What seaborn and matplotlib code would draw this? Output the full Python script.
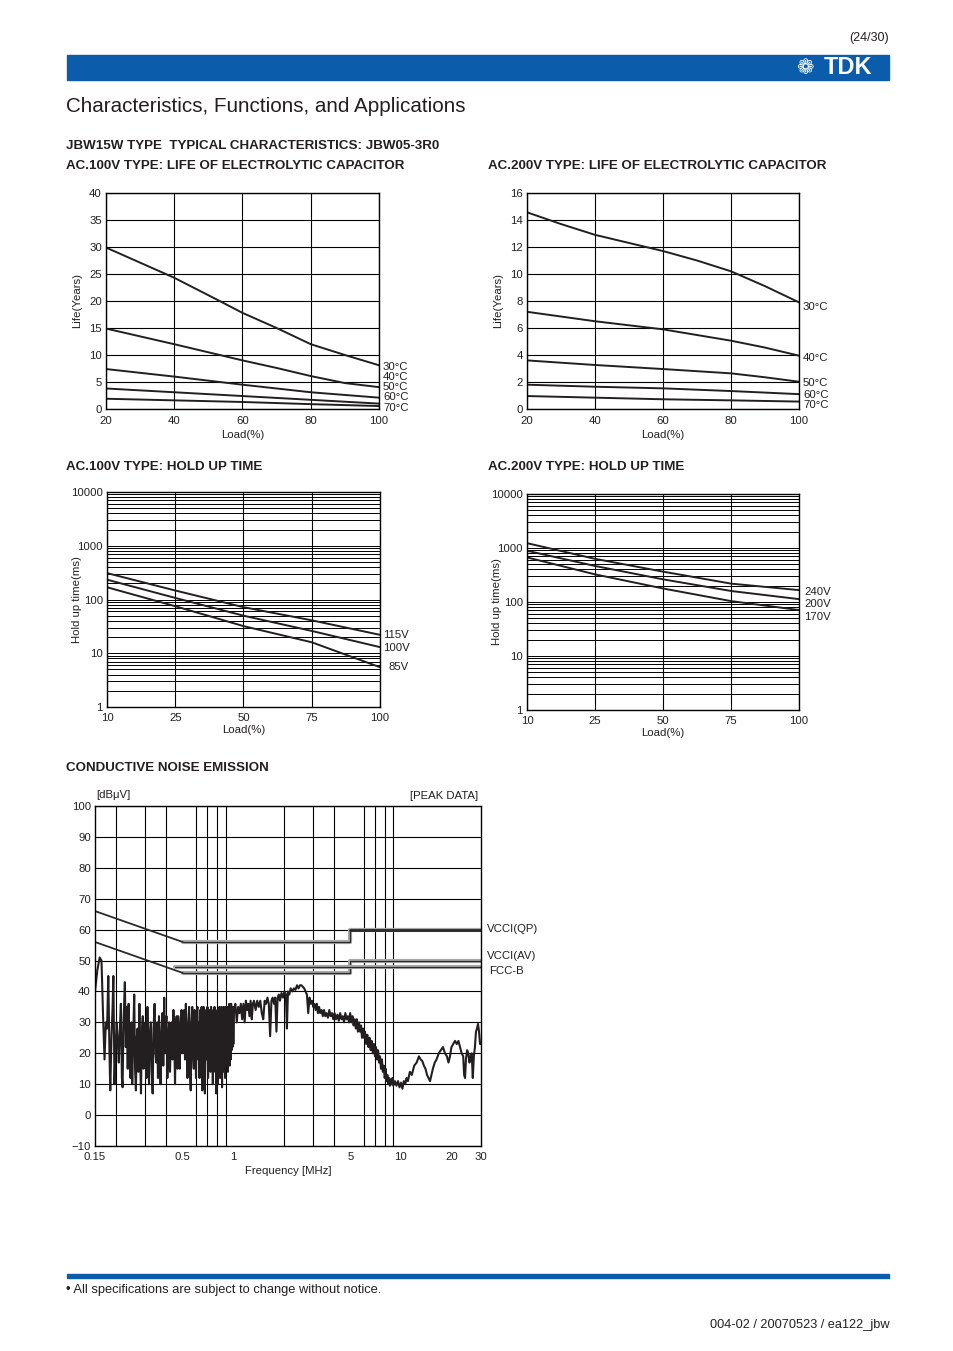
import numpy as np
import pandas as pd
import matplotlib
matplotlib.use("Agg")
import matplotlib.pyplot as plt
from matplotlib.patches import Rectangle
from matplotlib.ticker import FixedLocator, NullFormatter, FixedFormatter
import seaborn as sns

# ---------------- DATA ----------------
# AC.100V life of electrolytic capacitor (years vs load %)
life100_30_load = [20, 40, 53, 60, 70, 80, 90, 100]
life100_30 = [29.9, 24.3, 20.1, 17.8, 15.0, 12.0, 10.0, 8.1]
life100_40_load = [20, 40, 60, 70, 80, 90, 100]
life100_40 = [14.9, 12.0, 9.0, 7.6, 6.1, 4.8, 4.05]
life_load = [20, 40, 60, 80, 100]
life100_50 = [7.4, 6.0, 4.5, 3.1, 2.1]
life100_60 = [3.8, 3.1, 2.4, 1.7, 1.0]
life100_70 = [1.9, 1.6, 1.3, 0.9, 0.55]

# AC.200V life
life200_30_load = [20, 30, 40, 50, 60, 70, 80, 90, 100]
life200_30 = [14.57, 13.7, 12.9, 12.3, 11.7, 11.0, 10.2, 9.1, 7.9]
life200_40_load = [20, 40, 60, 80, 90, 100]
life200_40 = [7.2, 6.5, 5.9, 5.06, 4.55, 3.95]
life200_50_load = [20, 40, 60, 80, 90, 100]
life200_50 = [3.6, 3.26, 2.96, 2.64, 2.35, 2.02]
life200_60 = [1.8, 1.65, 1.53, 1.33, 1.1]
life200_70 = [0.96, 0.84, 0.72, 0.64, 0.55]
temp_labels = ["30°C", "40°C", "50°C", "60°C", "70°C"]

# Hold up time (ms) vs load categories
holdup_loads = ["10", "25", "50", "75", "100"]
hold100_115 = [310, 147, 72, 41, 22]
hold100_100 = [234, 107, 50, 26, 13]
hold100_85 = [169, 75, 32, 16, 5.5]
hold200_240 = [1230, 630, 365, 219, 166]
hold200_200 = [890, 465, 263, 160, 113]
hold200_170 = [670, 325, 178, 104, 71]

# Conductive noise emission (peak data), MHz / dBuV
noise_freq = [
    0.150, 0.155, 0.160, 0.164, 0.168, 0.171, 0.174, 0.177, 0.180, 0.183,
    0.185, 0.188, 0.191, 0.193, 0.196, 0.199, 0.202, 0.205, 0.208, 0.211,
    0.214, 0.217, 0.219, 0.222, 0.226, 0.229, 0.232, 0.235, 0.238, 0.241,
    0.244, 0.247, 0.250, 0.254, 0.257, 0.260, 0.263, 0.266, 0.269, 0.272,
    0.276, 0.279, 0.282, 0.285, 0.289, 0.292, 0.296, 0.300, 0.304, 0.308,
    0.312, 0.315, 0.319, 0.323, 0.327, 0.331, 0.335, 0.340, 0.344, 0.348,
    0.352, 0.356, 0.361, 0.365, 0.369, 0.374, 0.378, 0.383, 0.388, 0.392,
    0.396, 0.400, 0.405, 0.410, 0.415, 0.420, 0.425, 0.430, 0.435, 0.440,
    0.445, 0.450, 0.455, 0.460, 0.465, 0.470, 0.475, 0.480, 0.486, 0.492,
    0.498, 0.504, 0.510, 0.516, 0.522, 0.528, 0.534, 0.540, 0.546, 0.552,
    0.558, 0.564, 0.570, 0.576, 0.582, 0.588, 0.594, 0.600, 0.606, 0.612,
    0.618, 0.624, 0.630, 0.636, 0.642, 0.648, 0.654, 0.660, 0.666, 0.672,
    0.678, 0.684, 0.690, 0.696, 0.702, 0.708, 0.714, 0.720, 0.726, 0.732,
    0.738, 0.744, 0.750, 0.756, 0.762, 0.768, 0.774, 0.780, 0.786, 0.792,
    0.798, 0.804, 0.810, 0.816, 0.822, 0.828, 0.834, 0.840, 0.846, 0.852,
    0.858, 0.864, 0.870, 0.876, 0.882, 0.888, 0.894, 0.900, 0.906, 0.912,
    0.918, 0.924, 0.930, 0.936, 0.942, 0.948, 0.954, 0.960, 0.966, 0.972,
    0.978, 0.984, 0.990, 0.996, 1.002,
    1.01, 1.03, 1.05, 1.07, 1.09, 1.11, 1.13, 1.15, 1.17, 1.19,
    1.21, 1.23, 1.25, 1.27, 1.29, 1.31, 1.33, 1.36, 1.39, 1.42,
    1.45, 1.48, 1.51, 1.54, 1.57, 1.60, 1.63, 1.66, 1.69, 1.72,
    1.75, 1.78, 1.81, 1.84, 1.87, 1.90, 1.94, 1.98, 2.02, 2.06,
    2.09, 2.12, 2.16, 2.20, 2.25, 2.30, 2.35, 2.40, 2.45, 2.50,
    2.55, 2.60, 2.65, 2.70, 2.75, 2.80, 2.85, 2.90, 2.95, 3.00,
    3.05, 3.10, 3.15, 3.20, 3.25, 3.30, 3.36, 3.42, 3.48, 3.54,
    3.60, 3.67, 3.74, 3.81, 3.88, 3.95, 4.02, 4.10, 4.18, 4.26,
    4.34, 4.42, 4.50, 4.58, 4.66, 4.74, 4.82, 4.90, 4.98, 5.06,
    5.14, 5.22, 5.30, 5.38, 5.46, 5.54, 5.62, 5.70, 5.78, 5.86,
    5.94, 6.02, 6.10, 6.20, 6.30, 6.40, 6.50, 6.60, 6.70, 6.80,
    6.90, 7.00, 7.10, 7.20, 7.30, 7.40, 7.50, 7.60, 7.70, 7.80,
    7.90, 8.00, 8.10, 8.20, 8.30, 8.40, 8.50, 8.60, 8.70, 8.80,
    8.90, 9.00, 9.20, 9.40, 9.60, 9.80, 10.0, 10.2, 10.4, 10.6,
    10.8, 11.0, 11.3, 11.6, 12.0, 12.4, 12.8, 13.1, 13.4, 13.7,
    14.0, 14.3, 14.6, 14.9, 15.2, 15.5, 15.9, 16.3, 16.8, 17.3,
    17.8, 18.3, 18.8, 19.2, 19.6, 20.0, 20.5, 21.0, 21.5, 22.0,
    22.5, 23.0, 23.5, 23.8, 24.1, 24.4, 24.8, 25.2, 25.6, 26.0,
    26.4, 26.8, 27.2, 27.6, 28.0, 28.4, 28.8, 29.2, 29.6, 30.0]
noise_level = [
    40, 47, 51, 50, 30, 18, 30, 28, 45, 20,
    8, 25, 35, 45, 10, 22, 30, 24, 17, 28,
    36, 12, 9, 30, 43, 22, 35, 15, 36, 20,
    12, 30, 10, 28, 39, 15, 8, 25, 28, 14,
    36, 18, 7, 26, 32, 15, 20, 30, 12, 35,
    18, 10, 27, 30, 14, 7, 28, 36, 20, 17,
    30, 12, 32, 22, 10, 28, 33, 16, 38, 20,
    28, 32, 12, 25, 30, 14, 25, 30, 18, 34,
    25, 10, 28, 32, 15, 32, 22, 15, 30, 34,
    20, 28, 34, 18, 36, 22, 12, 30, 35, 16,
    8, 30, 35, 20, 15, 34, 28, 12, 33, 35,
    18, 30, 12, 34, 25, 35, 8, 30, 35, 16,
    7, 30, 34, 18, 35, 12, 32, 22, 34, 14,
    35, 20, 30, 10, 34, 24, 35, 14, 30, 7,
    28, 34, 10, 33, 20, 35, 12, 30, 16, 35,
    9, 33, 14, 35, 18, 30, 12, 35, 16, 34,
    18, 35, 14, 34, 20, 36, 16, 35, 18, 36,
    21, 34, 22, 35, 23,
    34, 36, 30, 35, 33, 36, 31, 36, 30, 37,
    34, 36, 32, 37, 31, 36, 37, 34, 37, 35,
    37, 33, 31, 37, 36, 38, 36, 25.5, 37, 38,
    36, 38, 27, 38, 39, 37, 39.5, 38, 40, 39,
    28, 40, 39, 41, 40, 41, 40.5, 42, 41, 42,
    42, 41.5, 41, 40, 39, 33, 38, 36, 37, 35,
    36, 34, 36, 33, 35, 33, 34, 32, 34, 32,
    33, 31.5, 34, 32, 33, 31, 33, 31, 32.5, 30.5,
    33, 31, 32, 30, 33, 31, 32, 30, 33, 30,
    32, 29, 31, 28, 31, 27, 30, 27, 29, 25,
    28, 25, 27, 23, 26, 22, 25, 21, 24, 20,
    23, 19, 22, 18, 21, 17, 19, 15, 18, 14,
    16, 12, 15, 11, 13, 10, 12, 9.5, 11.5, 10,
    12, 9.5, 11, 9.5, 11, 9, 10.5, 8.5, 11, 10,
    12, 11, 14, 13, 16, 17, 19, 18, 17.5, 16,
    15, 13, 12, 11, 13, 15, 17, 18, 20, 21,
    22, 20, 19, 17, 19, 22, 23, 24, 23, 24,
    22, 20, 19, 13, 12, 18, 21, 20, 17, 19,
    20, 12, 19, 22, 27, 28, 29.5, 27, 23, 23]

# Limit lines
qp_freq = [0.15, 0.5, 5.0, 5.0, 30.0]
qp_level = [66, 56, 56, 60, 60]
av_freq = [0.15, 0.5, 5.0, 5.0, 30.0]
av_level = [56, 46, 46, 50, 50]
fcc_freq = [0.45, 30.0]
fcc_level = [48, 48]
noise_xticks = [0.15, 0.5, 1, 5, 10, 20, 30]
noise_xticklabels = ["0.15", "0.5", "1", "5", "10", "20", "30"]
noise_grid = [0.2, 0.3, 0.4, 0.5, 0.6, 0.7, 0.8, 0.9, 1, 2, 3, 4, 5, 6, 7, 8, 9, 10, 20, 30]

# ---------------- STYLE ----------------
sns.set_theme(style="white")
plt.rcParams['font.family'] = ['Liberation Sans', 'DejaVu Sans']
INK = '#231f20'
BLUE = '#0b5cab'

W, H = 954, 1351
fig = plt.figure(figsize=(W / 100, H / 100), dpi=100)
fig.patch.set_facecolor('white')


def ax_at(l, t, r, b):
    return fig.add_axes([l / W, 1 - b / H, (r - l) / W, (b - t) / H])


def txt(x, y, s, size=8, ha='left', va='center', **kw):
    kw.setdefault('color', INK)
    fig.text(x / W, 1 - y / H, s, fontsize=size, ha=ha, va=va, **kw)


def style_axes(ax, xpad=3):
    ax.set_facecolor('white')
    for sp in ax.spines.values():
        sp.set_color('black')
        sp.set_linewidth(1.0)
        sp.set_visible(True)
    ax.tick_params(axis='both', which='both', length=0, pad=3, labelsize=8.2, colors=INK)
    ax.tick_params(axis='x', which='both', pad=xpad)
    ax.set_xlabel('')
    ax.set_ylabel('')
    leg = ax.get_legend()
    if leg is not None:
        leg.remove()


def line(ax, x, y, **kw):
    df = pd.DataFrame({'x': x, 'y': y})
    kw.setdefault('color', INK)
    kw.setdefault('linewidth', 1.4)
    sns.lineplot(data=df, x='x', y='y', ax=ax, estimator=None, sort=False, **kw)


# ---------------- PAGE DECORATION ----------------
txt(889, 38, "(24/30)", size=9, ha='right')
fig.patches.append(Rectangle((67 / W, 1 - 80 / H), (889 - 67) / W, 25 / H,
                             transform=fig.transFigure, color=BLUE, zorder=0))
txt(872, 68, "TDK", size=17, ha='right', color='white', fontweight='bold')
txt(805, 68, "❁", size=15, ha='center', color='white', family=['DejaVu Sans'])
txt(66, 107, "Characteristics, Functions, and Applications", size=14.9)
txt(66, 146, "JBW15W TYPE  TYPICAL CHARACTERISTICS: JBW05-3R0", size=9.6, fontweight='bold')
txt(66, 166, "AC.100V TYPE: LIFE OF ELECTROLYTIC CAPACITOR", size=9.6, fontweight='bold')
txt(488, 166, "AC.200V TYPE: LIFE OF ELECTROLYTIC CAPACITOR", size=9.6, fontweight='bold')
txt(66, 467, "AC.100V TYPE: HOLD UP TIME", size=9.6, fontweight='bold')
txt(488, 467, "AC.200V TYPE: HOLD UP TIME", size=9.6, fontweight='bold')
txt(66, 768, "CONDUCTIVE NOISE EMISSION", size=9.6, fontweight='bold')
fig.patches.append(Rectangle((67 / W, 1 - 1278 / H), (889 - 67) / W, 4 / H,
                             transform=fig.transFigure, color=BLUE, zorder=0))
txt(66, 1290, "• All specifications are subject to change without notice.", size=9.3)
txt(890, 1325, "004-02 / 20070523 / ea122_jbw", size=9.2, ha='right')

# ---------------- LIFE CHARTS ----------------
def life_chart(l, t, r, b, series, ymax, ystep, label_ys):
    ax = ax_at(l, t, r, b)
    for xs, ys in series:
        line(ax, xs, ys, linewidth=1.4)
    style_axes(ax, xpad=5)
    ax.set_xlim(20, 100)
    ax.set_ylim(0, ymax)
    ax.set_xticks([20, 40, 60, 80, 100])
    ax.set_yticks(np.arange(0, ymax + 0.1, ystep))
    ax.grid(True, color='black', linewidth=0.8)
    ax.set_axisbelow(True)
    txt((l + r) / 2, b + 26, "Load(%)", size=8.2, ha='center')
    txt(l - 29, (t + b) / 2, "Life(Years)", size=8.2, ha='center', rotation=90)
    for s, yy in zip(temp_labels, label_ys):
        txt(r + 4, yy, s, size=8.2)
    return ax


life_chart(106, 193, 379, 409,
           [(life100_30_load, life100_30), (life100_40_load, life100_40),
            (life_load, life100_50), (life_load, life100_60), (life_load, life100_70)],
           40, 5, [367, 377, 387, 397, 408])
life_chart(527, 193, 799, 409,
           [(life200_30_load, life200_30), (life200_40_load, life200_40),
            (life200_50_load, life200_50), (life_load, life200_60), (life_load, life200_70)],
           16, 2, [307, 358, 383, 395, 405])

# ---------------- HOLD UP CHARTS ----------------
def hold_chart(l, t, r, b, series, labels, label_xy):
    ax = ax_at(l, t, r, b)
    pos = list(range(len(holdup_loads)))
    for ys in series:
        line(ax, pos, ys, linewidth=1.4)
    style_axes(ax, xpad=4)
    ax.set_yscale('log')
    ax.set_ylim(1, 10000)
    ax.set_xlim(0, len(holdup_loads) - 1)
    ax.set_xticks(pos)
    ax.set_xticklabels(holdup_loads)
    ax.yaxis.set_major_locator(FixedLocator([1, 10, 100, 1000, 10000]))
    ax.yaxis.set_major_formatter(FixedFormatter(["1", "10", "100", "1000", "10000"]))
    minors = [m * 10 ** e for e in range(0, 4) for m in range(2, 10)]
    ax.yaxis.set_minor_locator(FixedLocator(minors))
    ax.yaxis.set_minor_formatter(NullFormatter())
    ax.grid(True, which='both', axis='y', color='black', linewidth=0.7)
    ax.grid(True, which='major', axis='x', color='black', linewidth=0.8)
    ax.set_axisbelow(True)
    ax.tick_params(axis='y', which='both', length=0)
    txt((l + r) / 2, b + 23, "Load(%)", size=8.2, ha='center')
    txt(l - 30, (t + b) / 2, "Hold up time(ms)", size=8.2, ha='center', rotation=90)
    for s, (xx, yy) in zip(labels, label_xy):
        txt(xx, yy, s, size=8.2)
    return ax


hold_chart(107, 492, 380, 707, [hold100_115, hold100_100, hold100_85],
           ["115V", "100V", "85V"], [(383, 635), (383, 648), (389, 667)])
hold_chart(527, 494, 799, 710, [hold200_240, hold200_200, hold200_170],
           ["240V", "200V", "170V"], [(804, 592), (804, 604), (804, 617)])

# ---------------- NOISE CHART ----------------
l, t, r, b = 95, 806, 481, 1146
ax = ax_at(l, t, r, b)
for fx, lv in [(qp_freq, qp_level), (av_freq, av_level), (fcc_freq, fcc_level)]:
    line(ax, fx[-4:], lv[-4:], color='#a8a8a8', linewidth=3.0)
    line(ax, fx[-4:], lv[-4:], color='#2a2a2a', linewidth=0.9)
    if len(fx) > 2:
        line(ax, fx[:2], lv[:2], color='#2a2a2a', linewidth=1.3)
line(ax, qp_freq[-2:], qp_level[-2:], color='#2a2a2a', linewidth=2.0)
line(ax, noise_freq, noise_level, color=INK, linewidth=1.5)
style_axes(ax, xpad=4)
ax.set_xscale('log')
ax.set_xlim(0.15, 30)
ax.set_ylim(-10, 100)
ax.xaxis.set_major_locator(FixedLocator(noise_xticks))
ax.xaxis.set_major_formatter(FixedFormatter(noise_xticklabels))
ax.xaxis.set_minor_locator(FixedLocator(noise_grid))
ax.xaxis.set_minor_formatter(NullFormatter())
ax.set_yticks(np.arange(-10, 101, 10))
ax.grid(True, which='minor', axis='x', color='black', linewidth=0.8)
ax.grid(True, which='major', axis='y', color='black', linewidth=0.8)
ax.set_axisbelow(True)
ax.tick_params(axis='both', which='both', length=0)
ax.tick_params(axis='x', which='both', pad=4)
txt(96, 795, "[dBμV]", size=8.2)
txt(478, 796, "[PEAK DATA]", size=8.2, ha='right')
txt(288, 1171, "Frequency [MHz]", size=8.2, ha='center')
txt(487, 929, "VCCI(QP)", size=8.2)
txt(487, 956, "VCCI(AV)", size=8.2)
txt(489, 971, "FCC-B", size=8.2)

fig.savefig("out.png", dpi=100, facecolor='white')
